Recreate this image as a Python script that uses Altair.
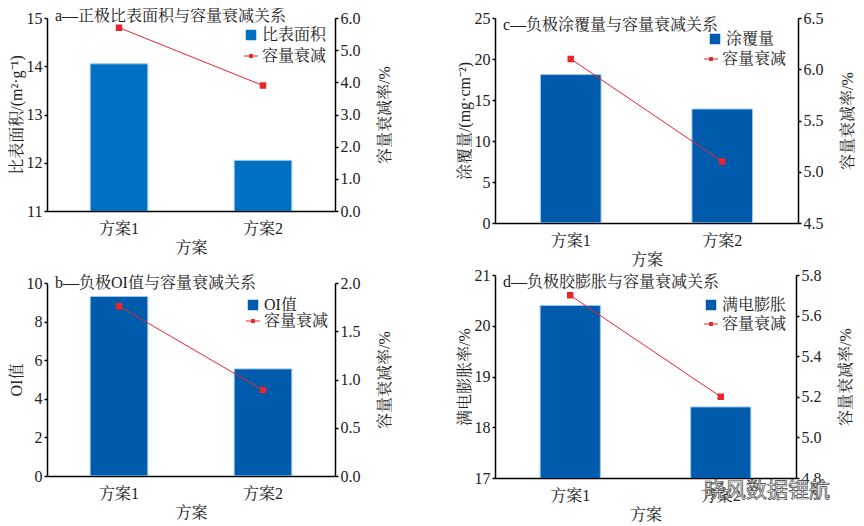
import altair as alt
import pandas as pd

# ---------------- data ----------------
schemes = ["方案1", "方案2"]

a_area = [14.05, 12.05]      # 比表面积 (m²·g⁻¹)
a_fade = [5.7, 3.9]          # 容量衰减率 %

b_oi = [9.3, 5.55]           # OI值
b_fade = [1.76, 0.89]

c_coat = [18.1, 13.9]        # 涂覆量 (mg·cm⁻²)
c_fade = [6.1, 5.1]

d_swell = [20.4, 18.4]       # 满电膨胀率 %
d_fade = [5.7, 5.2]

watermark = ["晓风数据锂航"]

RED = "#E8262B"
FONT = "Liberation Serif, Noto Serif CJK SC, Noto Sans CJK SC, serif"
LINE_SYMBOL = "M-1,0L1,0M-0.22,-0.22L0.22,-0.22L0.22,0.22L-0.22,0.22Z"


def panel(bars, fades, bar_name, ytitle, ydom, yvals, yfmt, rdom, rvals, rfmt,
          title, w, h, bar_color, toff, leg1, leg2, extra=None):
    df = pd.DataFrame({
        "方案": schemes,
        "val": bars,
        "fade": fades,
        "bar_name": [bar_name] * len(schemes),
        "line_name": ["容量衰减"] * len(schemes),
    })
    x = alt.X("方案:N", sort=schemes,
              scale=alt.Scale(paddingInner=0.6, paddingOuter=0.3),
              axis=alt.Axis(title="方案", labelAngle=0, ticks=False,
                            labelPadding=9, titlePadding=3))
    bar = alt.Chart(df).mark_bar(stroke="#9CC8EE", strokeWidth=1, clip=True).encode(
        x=x,
        y=alt.Y("val:Q",
                scale=alt.Scale(domain=ydom, zero=False, nice=False),
                axis=alt.Axis(title=ytitle, values=yvals, format=yfmt,
                              titlePadding=2)),
        fill=alt.Fill("bar_name:N", scale=alt.Scale(range=[bar_color]),
                      legend=alt.Legend(orient="none", legendX=leg1[0], legendY=leg1[1],
                                        title=None, symbolType="square",
                                        symbolSize=110, labelFontSize=16,
                                        labelFont=FONT, labelColor="#222",
                                        symbolStrokeWidth=0, padding=0,
                                        labelOffset=3)),
    )
    line = alt.Chart(df).mark_line(strokeWidth=1,
                                   point=alt.OverlayMarkDef(shape="square", size=20,
                                                            filled=True, color=RED)).encode(
        x=x,
        y=alt.Y("fade:Q",
                scale=alt.Scale(domain=rdom, zero=False, nice=False),
                axis=alt.Axis(title="容量衰减率/%", orient="right", values=rvals,
                              format=rfmt, titleAngle=270, titleBaseline="top",
                              titlePadding=16)),
        stroke=alt.Stroke("line_name:N", scale=alt.Scale(range=[RED]),
                          legend=alt.Legend(orient="none", legendX=leg2[0], legendY=leg2[1],
                                            title=None, symbolType=LINE_SYMBOL,
                                            symbolSize=196, symbolFillColor=RED,
                                            symbolStrokeColor=RED, symbolStrokeWidth=1,
                                            labelFontSize=16, labelFont=FONT,
                                            labelColor="#222", padding=0,
                                            labelOffset=3)),
    )
    layers = [bar, line]
    if extra is not None:
        layers.append(extra)
    return alt.layer(*layers).resolve_scale(y="independent").properties(
        width=w, height=h,
        title=alt.TitleParams(title, anchor="start", frame="group", dx=8,
                              offset=toff, fontSize=16, font=FONT,
                              fontWeight="normal", color="#222"),
    )


wm = alt.Chart(pd.DataFrame({"t": watermark})).mark_text(
    align="left", baseline="middle", fontSize=21, font="Noto Sans CJK SC",
    fontWeight="normal", fill="#ffffff", stroke="#3a3a3a", strokeWidth=0.7,
).encode(text="t:N", x=alt.value(209), y=alt.value(216))

pa = panel(a_area, a_fade, "比表面积", "比表面积/(m²·g⁻¹)", [11, 15], [11, 12, 13, 14, 15], "d",
           [0, 6], [0, 1, 2, 3, 4, 5, 6], ".1f",
           "a—正极比表面积与容量衰减关系", 288, 193, "#0070C0", -14, (196, 9), (196, 30))
pb = panel(b_oi, b_fade, "OI值", "OI值", [0, 10], [0, 2, 4, 6, 8, 10], "d",
           [0, 2], [0, 0.5, 1.0, 1.5, 2.0], ".1f",
           "b—负极OI值与容量衰减关系", 288, 193, "#005BAC", -16, (198, 14), (198, 30))
pc = panel(c_coat, c_fade, "涂覆量", "涂覆量/(mg·cm⁻²)", [0, 25], [0, 5, 10, 15, 20, 25], "d",
           [4.5, 6.5], [4.5, 5.0, 5.5, 6.0, 6.5], ".1f",
           "c—负极涂覆量与容量衰减关系", 303, 205, "#005BAC", -23, (212, 13), (208, 33))
pd_ = panel(d_swell, d_fade, "满电膨胀", "满电膨胀率/%", [17, 21], [17, 18, 19, 20, 21], "d",
            [4.8, 5.8], [4.8, 5.0, 5.2, 5.4, 5.6, 5.8], ".1f",
            "d—负极胶膨胀与容量衰减关系", 301, 203, "#005BAC", -23, (208, 22), (208, 41),
            extra=wm)

left = alt.vconcat(pa, pb, spacing=20).resolve_scale(fill="independent", stroke="independent").resolve_legend(fill="independent", stroke="independent")
right = alt.vconcat(pc, pd_, spacing=0).resolve_scale(fill="independent", stroke="independent").resolve_legend(fill="independent", stroke="independent")

chart = alt.hconcat(left, right, spacing=64).resolve_scale(
    fill="independent", stroke="independent"
).resolve_legend(fill="independent", stroke="independent").properties(
    padding={"left": 0, "top": 0, "right": 0, "bottom": 0},
    background="white",
).configure_view(strokeWidth=0).configure_axis(
    domainColor="black", domainWidth=1.5, tickColor="black", tickSize=3, tickWidth=1.5,
    labelFont=FONT, labelFontSize=16, labelColor="#222", labelPadding=2,
    titleFont=FONT, titleFontSize=16, titleFontWeight="normal", titleColor="#222",
    grid=False,
)

chart.save("out.html", embed_options={"renderer": "svg", "actions": False})
